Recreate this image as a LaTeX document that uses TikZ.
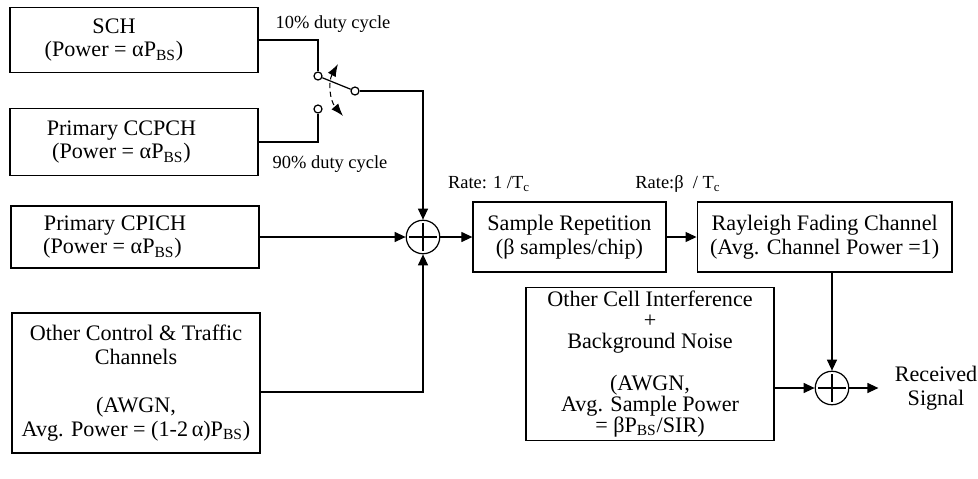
\documentclass[tikz,border=0pt]{standalone}
\usepackage{fontspec}
\setmainfont{Liberation Serif}
\usetikzlibrary{arrows.meta, positioning}

\newcommand{\lpad}[1]{\hspace*{#1}}

\begin{document}
\begin{tikzpicture}[
    x=0.02cm, y=-0.02cm, line width=0.7pt,
    font=\fontsize{10.5}{12.5}\selectfont,
    chan/.style  ={draw, minimum width=4.96cm, align=center, inner sep=2pt,
                   font=\fontsize{12.6}{13.6}\selectfont},
    proc/.style  ={draw, minimum height=1.4cm, align=center,
                   font=\fontsize{12.6}{13.6}\selectfont},
    adder/.style ={draw, circle, minimum size=0.67cm, inner sep=0pt,
                   path picture={\draw (path picture bounding box.center)
                       +(-0.28cm,0) -- +(0.28cm,0) +(0,-0.28cm) -- +(0,0.28cm);}},
    term/.style  ={draw, circle, fill=white, minimum size=0.16cm, inner sep=0pt},
    arrow/.style ={-{Triangle[length=0.22cm, width=0.2cm]}},
]
\useasboundingbox (0,0) rectangle (978,478);

% ── Channels ────────────────────────────────────────────────────────────
\node[chan, minimum height=1.3cm]  (sch)   at (134,40)
      {SCH\lpad{0.8cm}\\(Power = αP\textsubscript{BS})\lpad{0.8cm}};
\node[chan, minimum height=1.34cm] (ccpch) at (134,142)
      {Primary CCPCH\lpad{0.5cm}\\(Power = αP\textsubscript{BS})\lpad{0.5cm}};
\node[chan, minimum height=1.24cm] (cpich) at (135,237)
      {Primary CPICH\lpad{0.8cm}\\(Power = αP\textsubscript{BS})\lpad{0.9cm}};
\node[chan, minimum height=2.8cm]  (other) at (136,383)
      {Other Control \& Traffic\\Channels\\[13.6pt](AWGN,\\Avg. Power = (1-2\,α)P\textsubscript{BS})};

% ── Switch ──────────────────────────────────────────────────────────────
\node[term] (tup)  at (318,76)  {};
\node[term] (tdn)  at (318,109) {};
\node[term] (tcom) at (355,91)  {};
\coordinate (swup) at (338,64);
\coordinate (swdn) at (343,116);
\node (duty10) at (333,24)  {10\% duty cycle};
\node (duty90) at (330,164) {90\% duty cycle};

% ── Chip-rate chain ─────────────────────────────────────────────────────
\node[adder] (add1) at (423,237) {};
\node[proc, minimum width=3.86cm, right=0.64cm of add1] (rep)
      {Sample Repetition\\(β samples/chip)};
\node[proc, minimum width=5.1cm, right=0.6cm of rep] (ray)
      {Rayleigh Fading Channel\\(Avg. Channel Power =1)};
\node (rate1) at (489,184) {Rate: 1 /T\textsubscript{c}};
\node (rate2) at (678,184) {Rate:β~ / T\textsubscript{c}};

% ── Receiver side ───────────────────────────────────────────────────────
\node[chan, minimum height=3.06cm, inner sep=1pt, font=\fontsize{12.6}{12}\selectfont]
      (intf) at (650,364)
      {Other Cell Interference\\+\\Background Noise\\[12pt](AWGN,\\Avg. Sample Power\\= βP\textsubscript{BS}/SIR)};
\node[adder] (add2) at (832,388) {};
\node[align=center, inner xsep=9pt, font=\fontsize{12.6}{13.6}\selectfont]
      (recv) at (936,388) {Received\\Signal};

% ── Arrows ──────────────────────────────────────────────────────────────
\draw (sch.east)   -| (tup);
\draw (ccpch.east) -| (tdn);
\draw (tup) -- (tcom);
\draw[dashed, dash pattern=on 3pt off 2pt, line width=0.6pt,
      {Latex[length=0.25cm, width=0.18cm]}-{Latex[length=0.25cm, width=0.18cm]}]
      (swup) to[bend right=35] (swdn);
\draw[arrow] (tcom) -| (add1.north);
\draw[arrow] (cpich.east) -- (add1.west);
\draw[arrow] ([yshift=-0.18cm]other.east) -| (add1.south);
\draw[arrow] (add1) -- (rep);
\draw[arrow] (rep)  -- (ray);
\draw[arrow] (add2 |- ray.south) -- (add2.north);
\draw[arrow] (intf.east |- add2) -- (add2.west);
\draw[arrow] (add2) -- (recv);

\end{tikzpicture}
\end{document}
